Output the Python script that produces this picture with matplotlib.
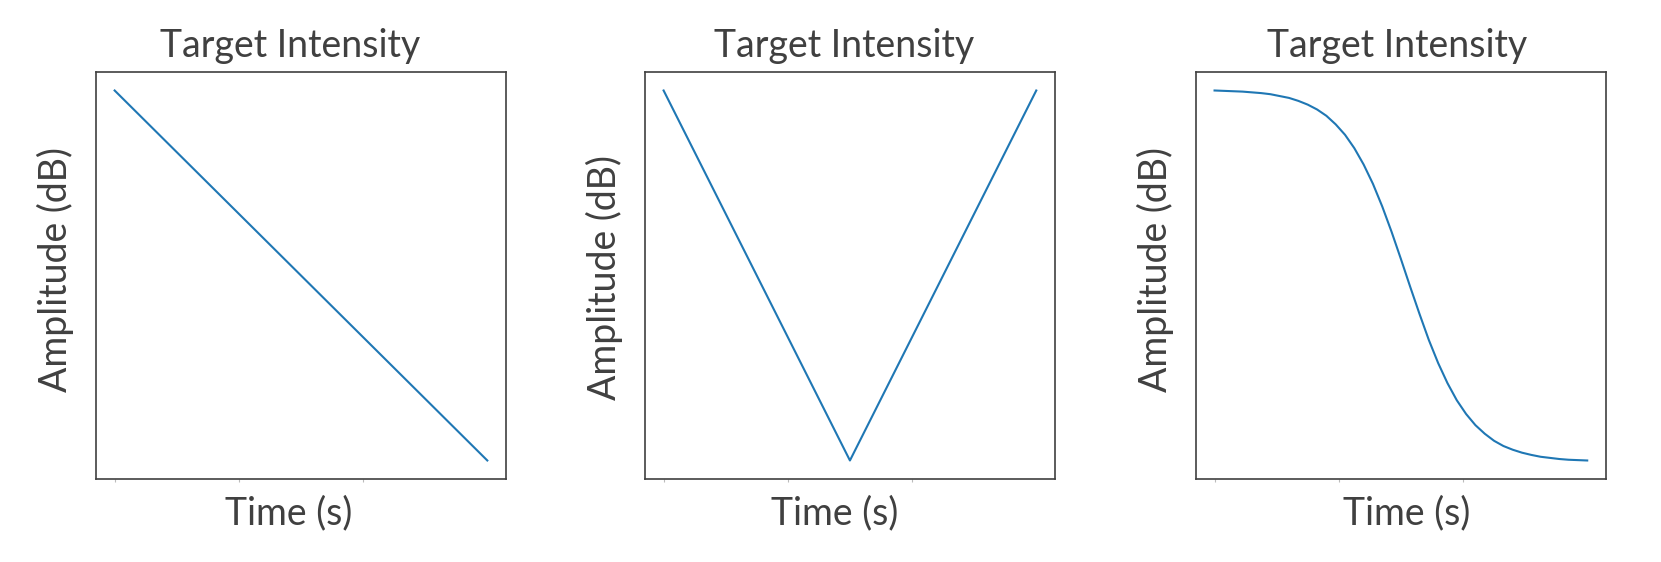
import numpy as np
import matplotlib.pyplot as plt

# panel 1: linear fade
time_lin = [0.0, 3.0]
amp_lin = [1.0, 0.0]

# panel 2: down then up
time_v = [0.0, 1.5, 3.0]
amp_v = [1.0, 0.0, 1.0]

# panel 3: smooth s-curve
time_s = [0.0, 0.075, 0.15, 0.225, 0.3, 0.375, 0.45, 0.525, 0.6, 0.675,
          0.75, 0.825, 0.9, 0.975, 1.05, 1.125, 1.2, 1.275, 1.35, 1.425,
          1.5, 1.575, 1.65, 1.725, 1.8, 1.875, 1.95, 2.025, 2.1, 2.175,
          2.25, 2.325, 2.4, 2.475, 2.55, 2.625, 2.7, 2.775, 2.85, 2.925, 3.0]
amp_s = [0.998, 0.997, 0.996, 0.995, 0.993, 0.991, 0.988, 0.983, 0.978, 0.970,
         0.960, 0.947, 0.930, 0.907, 0.879, 0.843, 0.799, 0.747, 0.686, 0.618,
         0.545, 0.470, 0.397, 0.327, 0.265, 0.211, 0.165, 0.128, 0.098, 0.075,
         0.056, 0.042, 0.032, 0.024, 0.018, 0.013, 0.010, 0.007, 0.005, 0.004, 0.003]

xtick_pos = [0, 1, 2]
title = "Target Intensity"
xlabel = "Time (s)"
ylabel = "Amplitude (dB)"

plt.rcParams['font.family'] = ['Lato', 'DejaVu Sans']
txt_col = '#404040'

fig = plt.figure(figsize=(16.61, 5.62), dpi=100)
lefts = [0.0578, 0.3883, 0.7200]
series = [(time_lin, amp_lin), (time_v, amp_v), (time_s, amp_s)]
# the labels in the original sit slightly off-centre
title_x = [0.474, 0.487, 0.49]
xlab_x = [0.469, 0.464, 0.515]
ylab_y = [0.515, 0.495, 0.515]

for i, (left, (t, a)) in enumerate(zip(lefts, series)):
    ax = fig.add_axes([left, 0.1477, 0.2468, 0.7242])
    ax.plot(t, a, color='#1f77b4', lw=1.5)
    ax.set_xticks(xtick_pos)
    ax.set_xticklabels([])
    ax.set_yticks([])
    ax.tick_params(axis='x', length=2, width=0.8, color='#bbbbbb')
    for s in ax.spines.values():
        s.set_color('#404040')
        s.set_linewidth(1.2)
    ax.set_title(title, fontsize=27, color=txt_col, pad=11)
    ax.title.set_x(title_x[i])
    ax.set_xlabel(xlabel, fontsize=27, color=txt_col, labelpad=6)
    ax.xaxis.label.set_x(xlab_x[i])
    ax.set_ylabel(ylabel, fontsize=27, color=txt_col, labelpad=16)
    ax.yaxis.label.set_y(ylab_y[i])

fig.savefig("out.png", dpi=100)
